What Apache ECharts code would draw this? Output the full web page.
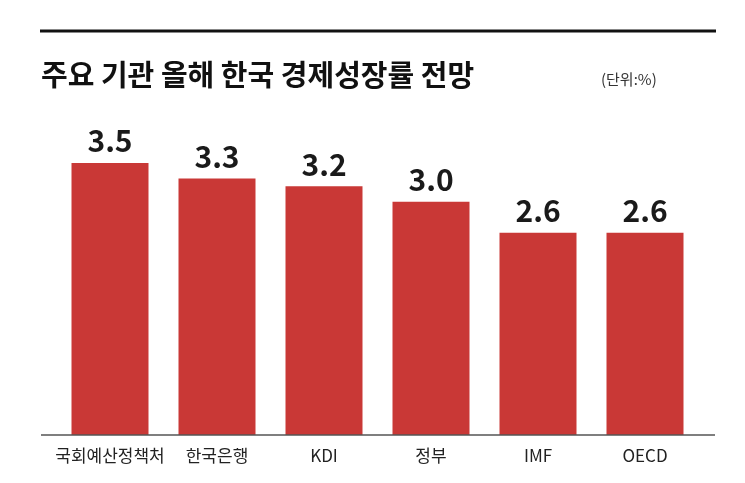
<!DOCTYPE html>
<html>
<head>
<meta charset="utf-8">
<script src="https://cdn.jsdelivr.net/npm/echarts@6/dist/echarts.min.js"></script>
<style>
html,body{margin:0;padding:0;background:#fff;}
#c{width:745px;height:483px;}
</style>
</head>
<body>
<div id="c"></div>
<script>
const titleText = '주요 기관 올해 한국 경제성장률 전망';
const unitText = '(단위:%)';
const categories = ['국회예산정책처', '한국은행', 'KDI', '정부', 'IMF', 'OECD'];
const values = [3.5, 3.3, 3.2, 3.0, 2.6, 2.6];

const FONT = '"Noto Sans CJK KR", "Noto Sans", sans-serif';
const chart = echarts.init(document.getElementById('c'));
chart.setOption({
  backgroundColor: '#fff',
  animation: false,
  title: [
    { text: titleText, left: 36, top: 55,
      textStyle: { fontFamily: FONT, fontSize: 29, fontWeight: 'bold', color: '#111' } },
    { text: unitText, left: 596, top: 67,
      textStyle: { fontFamily: FONT, fontSize: 15, fontWeight: 'normal', color: '#333' } }
  ],
  graphic: [
    { type: 'line', shape: { x1: 40, y1: 31, x2: 716, y2: 31 }, style: { stroke: '#111', lineWidth: 3 } },
    { type: 'line', shape: { x1: 41, y1: 435, x2: 715, y2: 435 }, style: { stroke: '#555', lineWidth: 1.5 }, z: 10 }
  ],
  grid: { left: 56.5, right: 46.5, top: 124, bottom: 48 },
  xAxis: {
    type: 'category',
    data: categories,
    axisLine: { show: false },
    axisTick: { show: false },
    axisLabel: { interval: 0, fontFamily: FONT, fontSize: 17, color: '#222', margin: 12, lineHeight: 17 }
  },
  yAxis: {
    type: 'value', min: 0, max: 4,
    show: false,
    splitLine: { show: false }
  },
  series: [{
    type: 'bar',
    data: values,
    barWidth: 77,
    itemStyle: { color: '#c93836' },
    label: {
      show: true, position: 'top', distance: 7,
      formatter: p => p.value.toFixed(1),
      fontFamily: FONT, fontSize: 30, fontWeight: 'bold', color: '#1a1a1a'
    }
  }]
});
</script>
</body>
</html>
